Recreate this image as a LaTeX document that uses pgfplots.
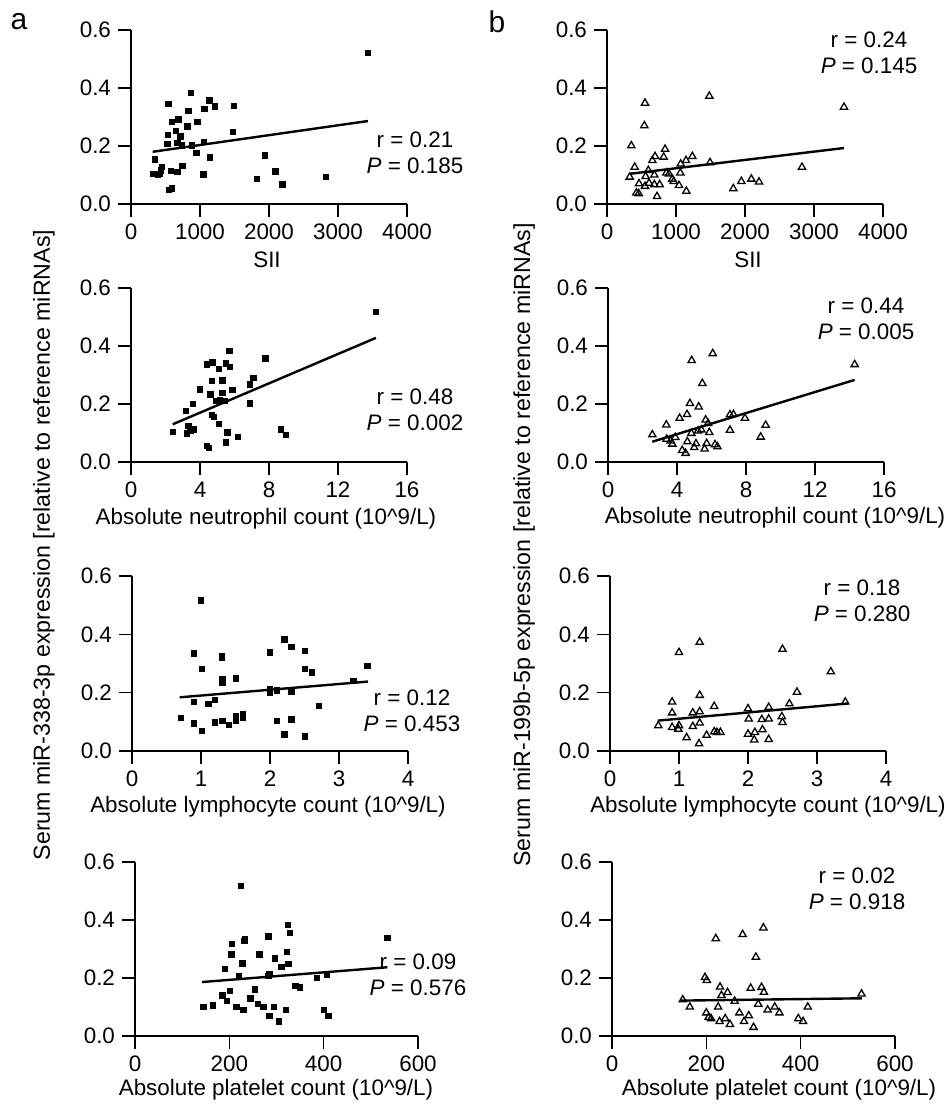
\documentclass[border=0pt]{standalone}
\usepackage{fontspec}
\setmainfont{Liberation Sans}
\usepackage{pgfplots}
\pgfplotsset{compat=1.18}

\newcommand{\fs}{\fontsize{11.2}{13}\selectfont}

\pgfplotsset{
  panel/.style={
    scale only axis, width=138pt, height=87pt,
    axis x line*=bottom, axis y line*=left,
    axis line style={line width=0.65pt, -},
    tick style={line width=0.65pt, black},
    tick align=outside, major tick length=6.5pt,
    ymin=0, ymax=0.6, ytick={0,0.2,0.4,0.6},
    yticklabel style={/pgf/number format/.cd, fixed, fixed zerofill, precision=1},
    enlargelimits=false, clip=false,
    ticklabel style={font=\fs},
    /pgf/number format/assume math mode=true,
    /pgf/number format/1000 sep={},
    anchor=south west,
  },
  sii/.style={xmin=0, xmax=4000, xtick={0,1000,2000,3000,4000}},
  neu/.style={xmin=0, xmax=16, xtick={0,4,8,12,16}},
  lym/.style={xmin=0, xmax=4, xtick={0,1,2,3,4}, height=87.5pt},
  plt/.style={xmin=0, xmax=600, xtick={0,200,400,600}, width=141.5pt},
  sq/.style={only marks, mark=square*, mark size=1.35pt, black},
  tri/.style={only marks, mark=triangle, mark size=2.1pt, black, mark options={line width=0.65pt}},
  fit/.style={no marks, black, line width=1.2pt},
}

\begin{document}
\begin{tikzpicture}
\useasboundingbox (0,0) rectangle (473pt,553pt);

% ---------- column a ----------
\begin{axis}[panel, sii, at={(65.5pt,451pt)}]
\addplot[sq] coordinates {(3434,0.520) (866,0.384) (542,0.345) (1137,0.357) (1219,0.336) (1064,0.328) (1490,0.339) (832,0.320) (687,0.291) (595,0.283) (962,0.282) (817,0.268) (653,0.252) (1480,0.248) (537,0.238) (716,0.233) (527,0.207) (672,0.211) (735,0.202) (880,0.202) (1054,0.214) (948,0.176) (1146,0.161) (348,0.154) (1940,0.167) (445,0.128) (435,0.116) (387,0.100) (314,0.103) (411,0.103) (576,0.114) (672,0.111) (745,0.132) (1050,0.102) (1828,0.087) (2090,0.113) (2196,0.067) (2825,0.094) (551,0.048) (590,0.054)};
\addplot[fit] coordinates {(314,0.180) (3434,0.286)};
\end{axis}

\begin{axis}[panel, neu, at={(65.5pt,322pt)}]
\addplot[sq] coordinates {(14.2,0.517) (5.71,0.383) (7.80,0.357) (4.41,0.337) (4.72,0.344) (5.51,0.340) (5.75,0.328) (5.09,0.321) (4.70,0.280) (5.30,0.281) (7.10,0.290) (6.89,0.267) (4.00,0.250) (4.60,0.233) (5.30,0.239) (5.88,0.248) (3.60,0.201) (4.91,0.210) (5.17,0.213) (5.42,0.211) (6.89,0.202) (3.19,0.177) (4.68,0.162) (4.80,0.156) (5.11,0.131) (2.42,0.103) (3.23,0.099) (3.33,0.124) (3.64,0.112) (3.45,0.108) (5.59,0.102) (6.19,0.087) (8.69,0.112) (8.99,0.094) (4.41,0.055) (4.51,0.048) (5.51,0.067)};
\addplot[fit] coordinates {(2.42,0.130) (14.2,0.428)};
\end{axis}

\begin{axis}[panel, lym, at={(66pt,177.5pt)}]
\addplot[sq] coordinates {(1.00,0.517) (0.90,0.335) (1.30,0.327) (1.30,0.320) (1.01,0.281) (1.31,0.247) (1.31,0.235) (1.51,0.249) (2.00,0.338) (2.21,0.383) (2.31,0.357) (2.51,0.344) (2.51,0.282) (2.61,0.269) (3.41,0.291) (3.21,0.240) (2.00,0.213) (2.00,0.201) (2.10,0.208) (2.31,0.203) (2.71,0.154) (0.90,0.168) (1.11,0.161) (1.20,0.176) (0.71,0.114) (0.90,0.094) (1.01,0.069) (1.20,0.098) (1.31,0.104) (1.40,0.089) (1.51,0.118) (1.51,0.104) (1.61,0.127) (1.61,0.115) (2.10,0.103) (2.31,0.109) (2.21,0.057) (2.51,0.050)};
\addplot[fit] coordinates {(0.69,0.184) (3.42,0.238)};
\end{axis}

\begin{axis}[panel, plt, at={(67.5pt,35pt)}]
\addplot[sq] coordinates {(224,0.517) (324,0.384) (328,0.356) (283,0.344) (233,0.333) (232,0.328) (205,0.318) (535,0.338) (204,0.282) (264,0.282) (228,0.251) (297,0.267) (322,0.290) (310,0.239) (325,0.248) (191,0.232) (220,0.206) (283,0.207) (285,0.214) (386,0.201) (407,0.213) (201,0.155) (254,0.160) (340,0.172) (350,0.167) (145,0.100) (165,0.105) (185,0.140) (195,0.120) (215,0.100) (230,0.090) (245,0.130) (260,0.110) (272,0.100) (285,0.070) (295,0.100) (305,0.050) (320,0.090) (400,0.090) (410,0.070)};
\addplot[fit] coordinates {(142,0.186) (535,0.237)};
\end{axis}

% ---------- column b ----------
\begin{axis}[panel, sii, at={(303.5pt,451pt)}]
\addplot[tri] coordinates {(551,0.348) (541,0.270) (1483,0.372) (3435,0.334) (353,0.201) (841,0.189) (696,0.164) (821,0.162) (657,0.150) (1237,0.164) (1145,0.150) (1068,0.138) (1493,0.143) (401,0.127) (599,0.116) (329,0.093) (560,0.095) (686,0.100) (860,0.107) (899,0.104) (1063,0.107) (947,0.086) (966,0.078) (464,0.070) (609,0.072) (686,0.067) (763,0.067) (551,0.061) (1043,0.064) (425,0.038) (459,0.036) (725,0.026) (1150,0.044) (2826,0.127) (1831,0.053) (1947,0.078) (2092,0.086) (2203,0.076)};
\addplot[fit] coordinates {(329,0.104) (3435,0.193)};
\end{axis}

\begin{axis}[panel, neu, at={(304pt,322pt)}]
\addplot[tri] coordinates {(14.3,0.336) (6.07,0.374) (4.85,0.350) (5.47,0.271) (4.75,0.202) (5.26,0.190) (4.58,0.164) (4.15,0.151) (7.07,0.163) (7.27,0.164) (7.94,0.151) (5.66,0.145) (5.80,0.133) (3.38,0.128) (9.14,0.127) (2.57,0.094) (7.07,0.110) (8.85,0.086) (4.83,0.099) (5.22,0.107) (5.41,0.111) (5.87,0.102) (3.63,0.073) (3.40,0.079) (3.73,0.062) (4.60,0.070) (5.10,0.063) (5.72,0.064) (6.34,0.053) (4.3,0.040) (4.5,0.030) (5.0,0.050) (5.6,0.045) (6.2,0.060) (3.9,0.085)};
\addplot[fit] coordinates {(2.57,0.070) (14.3,0.283)};
\end{axis}

\begin{axis}[panel, lym, at={(305pt,177.5pt)}]
\addplot[tri] coordinates {(1.30,0.373) (1.00,0.338) (2.50,0.349) (3.20,0.272) (2.71,0.202) (1.30,0.191) (0.90,0.168) (1.51,0.153) (2.60,0.162) (3.41,0.168) (0.90,0.131) (1.20,0.131) (1.30,0.135) (2.00,0.145) (2.30,0.150) (0.70,0.087) (0.90,0.081) (1.00,0.087) (0.99,0.075) (1.20,0.084) (1.30,0.096) (2.01,0.110) (2.20,0.108) (2.30,0.110) (2.49,0.118) (2.50,0.098) (1.11,0.046) (1.29,0.025) (1.40,0.054) (1.51,0.066) (1.60,0.064) (2.00,0.058) (2.10,0.064) (2.09,0.038) (2.21,0.073) (2.30,0.040) (1.55,0.064)};
\addplot[fit] coordinates {(0.69,0.104) (3.45,0.163)};
\end{axis}

\begin{axis}[panel, plt, at={(306pt,35pt)}]
\addplot[tri] coordinates {(321,0.373) (220,0.336) (277,0.350) (305,0.272) (197,0.202) (201,0.192) (229,0.169) (294,0.165) (317,0.168) (322,0.151) (529,0.145) (150,0.125) (165,0.100) (200,0.080) (205,0.065) (210,0.060) (225,0.100) (228,0.050) (240,0.060) (250,0.040) (260,0.120) (270,0.080) (280,0.050) (290,0.070) (300,0.030) (310,0.110) (330,0.090) (345,0.100) (355,0.080) (395,0.060) (405,0.050) (415,0.100) (245,0.150) (232,0.140)};
\addplot[fit] coordinates {(145,0.122) (530,0.130)};
\end{axis}

% ---------- text ----------
\node[font=\fontsize{15}{17}\selectfont] at (9.5pt,542pt) {a};
\node[font=\fontsize{15}{17}\selectfont] at (248.5pt,542pt) {b};

\node[rotate=90, font=\fontsize{11.6}{13}\selectfont] at (22pt,280.5pt) {Serum miR-338-3p expression [relative to reference miRNAs]};
\node[rotate=90, font=\fontsize{11.6}{13}\selectfont] at (262pt,280.5pt) {Serum miR-199b-5p expression [relative to reference miRNAs]};

\node[font=\fs] at (133.5pt,423pt) {SII};
\node[font=\fs] at (374pt,423pt) {SII};
\node[font=\fs] at (133pt,293.5pt) {Absolute neutrophil count (10\textasciicircum 9/L)};
\node[font=\fs] at (387.5pt,294pt) {Absolute neutrophil count (10\textasciicircum 9/L)};
\node[font=\fs] at (134pt,149.5pt) {Absolute lymphocyte count (10\textasciicircum 9/L)};
\node[font=\fs] at (384pt,149.5pt) {Absolute lymphocyte count (10\textasciicircum 9/L)};
\node[font=\fs] at (138pt,8pt) {Absolute platelet count (10\textasciicircum 9/L)};
\node[font=\fs] at (389.5pt,8pt) {Absolute platelet count (10\textasciicircum 9/L)};

\node[font=\fs, align=center] at (207.5pt,476.5pt) {r = 0.21\\\textit{P} = 0.185};
\node[font=\fs, align=center] at (207.5pt,348.25pt) {r = 0.48\\\textit{P} = 0.002};
\node[font=\fs, align=center] at (206pt,197.5pt) {r = 0.12\\\textit{P} = 0.453};
\node[font=\fs, align=center] at (209pt,65.5pt) {r = 0.09\\\textit{P} = 0.576};
\node[font=\fs, align=center] at (434.5pt,526.75pt) {r = 0.24\\\textit{P} = 0.145};
\node[font=\fs, align=center] at (433pt,393.5pt) {r = 0.44\\\textit{P} = 0.005};
\node[font=\fs, align=center] at (431pt,252.75pt) {r = 0.18\\\textit{P} = 0.280};
\node[font=\fs, align=center] at (428.5pt,108.75pt) {r = 0.02\\\textit{P} = 0.918};
\end{tikzpicture}
\end{document}
